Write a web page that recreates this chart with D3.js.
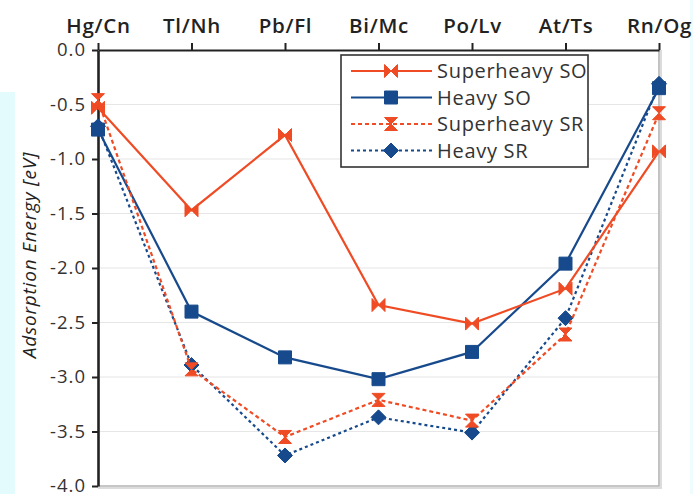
<!DOCTYPE html>
<html>
<head>
<meta charset="utf-8">
<script src="https://cdn.jsdelivr.net/npm/d3@7"></script>
<style>
  html, body { margin: 0; padding: 0; background: #ffffff; }
  svg { display: block; font-family: "Open Sans", "Noto Sans", sans-serif; }
</style>
</head>
<body>
<svg id="chart" width="693" height="494"></svg>
<script>
// Element pairs (heavy homologue / superheavy element)
const categories = ["Hg/Cn", "Tl/Nh", "Pb/Fl", "Bi/Mc", "Po/Lv", "At/Ts", "Rn/Og"];

// Adsorption energies in eV
const superheavySO = [-0.53, -1.47, -0.78, -2.34, -2.51, -2.19, -0.93];
const heavySO      = [-0.73, -2.40, -2.82, -3.02, -2.77, -1.96, -0.35];
const superheavySR = [-0.46, -2.93, -3.55, -3.21, -3.40, -2.61, -0.58];
const heavySR      = [-0.70, -2.89, -3.72, -3.37, -3.51, -2.46, -0.31];

const yTicks = [0, -0.5, -1, -1.5, -2, -2.5, -3, -3.5, -4];
const seriesNames = ["Superheavy SO", "Heavy SO", "Superheavy SR", "Heavy SR"];

const ORANGE = "#ef4b24";
const BLUE = "#174a8c";

const series = [
  { name: seriesNames[0], values: superheavySO, color: ORANGE, dash: null, marker: "bowtie" },
  { name: seriesNames[1], values: heavySO, color: BLUE, dash: null, marker: "square" },
  { name: seriesNames[2], values: superheavySR, color: ORANGE, dash: "4,3", marker: "hourglass" },
  { name: seriesNames[3], values: heavySR, color: BLUE, dash: "3,3", marker: "diamond" }
];

const svg = d3.select("#chart");

// Tinted page edges
svg.append("rect").attr("x", 0).attr("y", 92).attr("width", 15).attr("height", 402).attr("fill", "#e4fbfd");
svg.append("rect").attr("x", 690).attr("y", 0).attr("width", 3).attr("height", 494).attr("fill", "#eefcfd");

const plotLeft = 98, plotRight = 659, plotTop = 50, plotBottom = 486;

const x = d3.scalePoint().domain(categories).range([plotLeft, plotRight]);
const y = d3.scaleLinear().domain([-4, 0]).range([plotBottom, plotTop]);

// Horizontal gridlines
svg.append("g").selectAll("line")
  .data(yTicks.filter(t => t !== 0 && t !== -4))
  .join("line")
  .attr("x1", plotLeft).attr("x2", plotRight)
  .attr("y1", d => y(d)).attr("y2", d => y(d))
  .attr("stroke", "#e6e6e6").attr("stroke-width", 1.2);

// Plot frame shadow (right and bottom)
svg.append("path")
  .attr("d", `M${plotRight + 2},${plotTop} L${plotRight + 2},${plotBottom + 2} L${plotLeft},${plotBottom + 2}`)
  .attr("fill", "none").attr("stroke", "#dcdcdc").attr("stroke-width", 2);
svg.append("path")
  .attr("d", `M${plotRight},${plotTop} L${plotRight},${plotBottom} L${plotLeft},${plotBottom}`)
  .attr("fill", "none").attr("stroke", "#b4b4b4").attr("stroke-width", 1.6);

// Top category axis
const xAxis = svg.append("g")
  .attr("transform", `translate(0,${plotTop})`)
  .call(d3.axisTop(x).tickSize(7).tickSizeOuter(0).tickPadding(10));
xAxis.select(".domain").attr("stroke", "#222").attr("stroke-width", 2.2);
xAxis.selectAll(".tick line").attr("stroke", "#222").attr("stroke-width", 2);
xAxis.selectAll(".tick text")
  .attr("font-size", 20.5).attr("font-weight", 600).attr("fill", "#222")
  .attr("letter-spacing", 0.7)
  .attr("font-family", "'Open Sans', sans-serif");

// Left value axis
const yAxis = svg.append("g")
  .attr("transform", `translate(${plotLeft},0)`)
  .call(d3.axisLeft(y).tickValues(yTicks).tickSize(6).tickSizeOuter(0).tickPadding(6));
yAxis.select(".domain").attr("stroke", "#222").attr("stroke-width", 2.6);
yAxis.selectAll(".tick line").attr("stroke", "#222").attr("stroke-width", 2);
yAxis.selectAll(".tick text")
  .attr("font-size", 18.5).attr("fill", "#333")
  .attr("letter-spacing", 1)
  .attr("font-family", "'Open Sans', sans-serif")
  .text(d => d3.format(".1f")(d).replace("\u2212", "-"));

// Axis title
svg.append("text")
  .attr("transform", `translate(36,${(140 + 370) / 2}) rotate(-90)`)
  .attr("text-anchor", "middle")
  .attr("font-size", 19).attr("font-style", "italic").attr("fill", "#222")
  .attr("letter-spacing", 0.8)
  .text("Adsorption Energy [eV]");

// Marker shapes
function markerPath(type) {
  const s = 6.5;
  switch (type) {
    case "bowtie":
      return `M${-s},${-s} L0,0 L${-s},${s} Z M${s},${-s} L0,0 L${s},${s} Z`;
    case "hourglass":
      return `M${-s},${-s} L${s},${-s} L0,0 Z M${-s},${s} L${s},${s} L0,0 Z`;
    case "square":
      return `M-6.5,-6.5 H6.5 V6.5 H-6.5 Z`;
    case "diamond":
      return `M0,-7.5 L7.5,0 L0,7.5 L-7.5,0 Z`;
  }
}

const line = d3.line().x((d, i) => x(categories[i])).y(d => y(d));

const drawOrder = [3, 1, 2, 0];
const plot = svg.append("g");
drawOrder.forEach(k => {
  const s = series[k];
  const g = plot.append("g");
  g.append("path")
    .attr("d", line(s.values))
    .attr("fill", "none")
    .attr("stroke", s.color)
    .attr("stroke-width", 2.2)
    .attr("stroke-dasharray", s.dash);
  g.selectAll("path.m")
    .data(s.values)
    .join("path")
    .attr("class", "m")
    .attr("transform", (d, i) => `translate(${x(categories[i])},${y(d)})`)
    .attr("d", markerPath(s.marker))
    .attr("fill", s.color)
    .attr("stroke", s.color)
    .attr("stroke-width", 1);
});

// Legend
const lg = svg.append("g");
lg.append("rect")
  .attr("x", 341).attr("y", 55).attr("width", 247).attr("height", 112)
  .attr("fill", "#fff").attr("stroke", "#333").attr("stroke-width", 1.6);
series.forEach((s, i) => {
  const ly = 71 + i * 26.5;
  lg.append("line")
    .attr("x1", 351).attr("x2", 432).attr("y1", ly).attr("y2", ly)
    .attr("stroke", s.color).attr("stroke-width", 2.2)
    .attr("stroke-dasharray", s.dash);
  lg.append("path")
    .attr("transform", `translate(391,${ly})`)
    .attr("d", markerPath(s.marker))
    .attr("fill", s.color).attr("stroke", s.color).attr("stroke-width", 1);
  lg.append("text")
    .attr("x", 437).attr("y", ly).attr("dy", "0.36em")
    .attr("font-size", 20).attr("fill", "#333")
    .attr("letter-spacing", 0.7)
    .text(s.name);
});
</script>
</body>
</html>
